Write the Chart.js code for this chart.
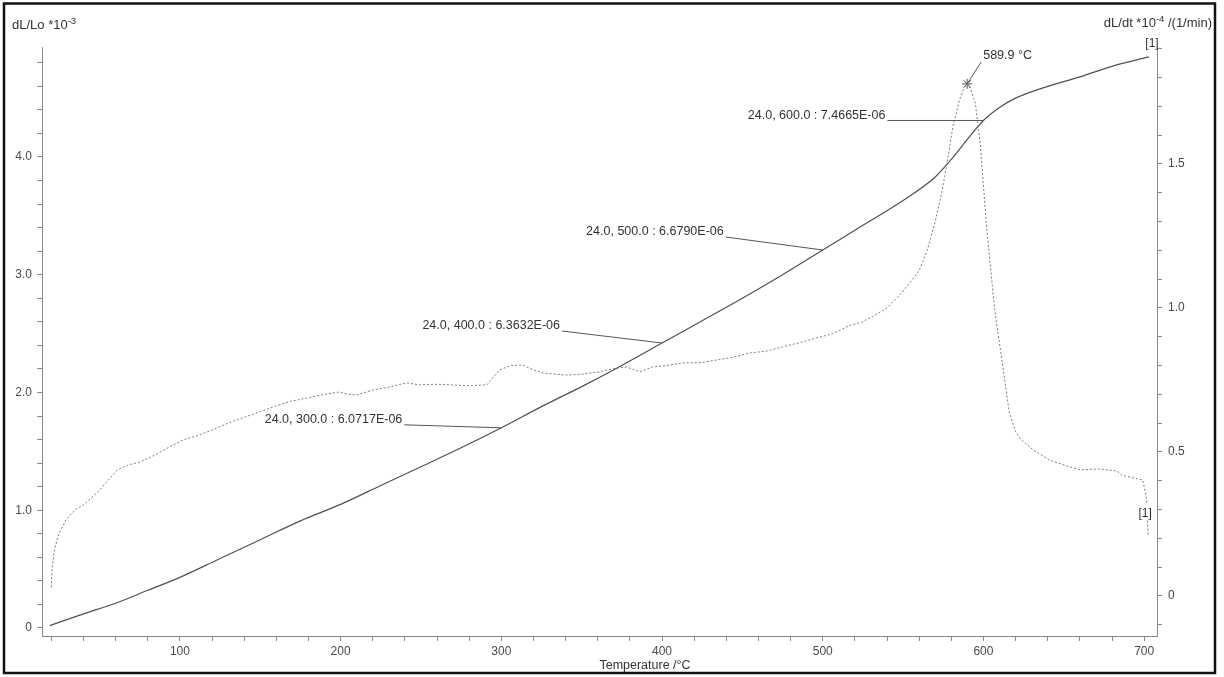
<!DOCTYPE html>
<html>
<head>
<meta charset="utf-8">
<title>Dilatometer: dL/Lo and dL/dt vs temperature</title>
<script src="https://cdn.jsdelivr.net/npm/chart.js@4.4.1/dist/chart.umd.min.js"></script>
<style>
  html, body { margin: 0; padding: 0; background: #fff; }
  #wrap { position: relative; width: 1224px; height: 677px; }
</style>
</head>
<body>
<div id="wrap"><canvas id="c" width="1224" height="677"></canvas></div>
<script>
// Relative expansion dL/Lo (*10^-3) against temperature (°C)
const expTemp  = [19, 40, 60, 80, 100, 125, 150, 175, 200, 225, 250, 275, 300, 325, 350, 375, 400, 425, 450, 475, 500, 525, 550, 570, 580, 590, 600, 610, 620, 640, 660, 680, 703];
const expValue = [0.02, 0.12, 0.21, 0.32, 0.43, 0.59, 0.75, 0.91, 1.05, 1.21, 1.37, 1.53, 1.70, 1.88, 2.05, 2.23, 2.42, 2.61, 2.80, 3.00, 3.21, 3.42, 3.63, 3.83, 3.98, 4.15, 4.31, 4.42, 4.50, 4.60, 4.68, 4.77, 4.85];

// Expansion rate dL/dt (*10^-4 1/min) against temperature (°C)
const rateTemp  = [20, 20.5, 22, 24, 29, 35, 40, 49, 55, 61, 68, 75, 85, 92, 102, 110, 120, 130, 139, 150, 158, 168, 179, 190, 199, 205, 210, 220, 230, 241, 249, 260, 268, 280, 291, 299, 306, 313, 320, 326, 334, 341, 350, 361, 370, 378, 386, 394, 403, 413, 424, 434, 445, 455, 465, 475, 486, 496, 506, 517, 524, 531, 540, 548, 556, 560, 565, 570, 574, 577, 581, 585, 588, 589.9, 592, 595, 598, 602, 607, 613, 616, 620, 623, 631, 641, 652, 660, 672, 683, 686, 693, 699, 700.5, 701.5, 702, 702.5];
const rateValue = [0.03, 0.10, 0.16, 0.205, 0.264, 0.30, 0.316, 0.361, 0.40, 0.437, 0.455, 0.465, 0.49, 0.513, 0.542, 0.555, 0.576, 0.60, 0.618, 0.64, 0.656, 0.675, 0.687, 0.70, 0.708, 0.70, 0.698, 0.715, 0.725, 0.74, 0.733, 0.735, 0.733, 0.73, 0.733, 0.785, 0.80, 0.802, 0.785, 0.774, 0.77, 0.767, 0.77, 0.778, 0.79, 0.795, 0.778, 0.795, 0.80, 0.809, 0.81, 0.819, 0.83, 0.844, 0.85, 0.865, 0.88, 0.896, 0.91, 0.94, 0.95, 0.97, 1.0, 1.045, 1.10, 1.13, 1.20, 1.30, 1.40, 1.49, 1.63, 1.72, 1.765, 1.778, 1.76, 1.71, 1.57, 1.28, 0.993, 0.76, 0.64, 0.57, 0.545, 0.507, 0.472, 0.451, 0.438, 0.441, 0.434, 0.42, 0.41, 0.403, 0.368, 0.333, 0.264, 0.212];

// Peak of the rate curve
const peakTemp = [589.9];
const peakRate = [1.778];
const peakText = '589.9 °C';

// Mean expansion coefficients, 24.0 °C up to the given temperature
const cteTemp = [300, 400, 500, 600];
const cteText = ['24.0, 300.0 : 6.0717E-06', '24.0, 400.0 : 6.3632E-06', '24.0, 500.0 : 6.6790E-06', '24.0, 600.0 : 7.4665E-06'];

// Axis labelling
const tempTickLabels = ['100', '200', '300', '400', '500', '600', '700'];
const expTickLabels  = ['0', '1.0', '2.0', '3.0', '4.0'];
const rateTickLabels = ['0', '0.5', '1.0', '1.5'];
const tempTitle = 'Temperature /°C';
const curveTag = '[1]';

// ---------------------------------------------------------------------------
const FONT = '"Liberation Sans", Arial, Helvetica, sans-serif';
Chart.defaults.font.family = FONT;
Chart.defaults.font.size = 12;
Chart.defaults.color = '#4a4a4a';

// leader offsets (px) from the curve point back to the text end
const leaderOffsets = [[-97, -3], [-100, -12], [-97, -13], [-96, 0]];

function labelFor(list, value) {
  const hit = list.find(s => Math.abs(parseFloat(s) - value) < 1e-6);
  return hit === undefined ? '' : hit;
}
function interp(xs, ys, x) {
  for (let i = 1; i < xs.length; i++) {
    if (x <= xs[i]) {
      const f = (x - xs[i - 1]) / (xs[i] - xs[i - 1]);
      return ys[i - 1] + f * (ys[i] - ys[i - 1]);
    }
  }
  return ys[ys.length - 1];
}
function fixBox(size, horizontal) {
  return function (scale) {
    if (horizontal) scale.height = size; else scale.width = size;
    scale.paddingTop = scale.paddingBottom = scale.paddingLeft = scale.paddingRight = 0;
  };
}
function stepTicks(from, to, step, digits) {
  const out = [];
  const n = Math.round((to - from) / step);
  for (let i = 0; i <= n; i++) out.push({ value: +(from + i * step).toFixed(digits) });
  return out;
}

const axisGrid = { drawOnChartArea: false, drawTicks: true, tickLength: 5, color: '#8a8a8a', lineWidth: 1 };
const axisBorder = { display: true, color: '#8a8a8a', width: 1 };

const overlay = {
  id: 'overlay',
  afterDatasetsDraw(chart) {
    const { ctx, scales } = chart;
    const x = scales.x, y = scales.y, y2 = scales.y2;
    ctx.save();

    // expansion-coefficient callouts
    ctx.font = '12.5px ' + FONT;
    ctx.fillStyle = '#333';
    ctx.strokeStyle = '#555';
    ctx.lineWidth = 1;
    ctx.textAlign = 'right';
    ctx.textBaseline = 'middle';
    cteTemp.forEach((t, i) => {
      const px = x.getPixelForValue(t);
      const py = y.getPixelForValue(interp(expTemp, expValue, t));
      const sx = px + leaderOffsets[i][0];
      const sy = py + leaderOffsets[i][1];
      ctx.beginPath();
      ctx.moveTo(sx, sy);
      ctx.lineTo(px, py);
      ctx.stroke();
      ctx.fillText(cteText[i], sx - 2, sy - 5);
    });

    // peak callout
    const kx = x.getPixelForValue(peakTemp[0]);
    const ky = y2.getPixelForValue(peakRate[0]);
    ctx.beginPath();
    ctx.moveTo(kx, ky);
    ctx.lineTo(kx + 14, ky - 22);
    ctx.stroke();
    ctx.textAlign = 'left';
    ctx.fillText(peakText, kx + 16, ky - 28);

    // curve end tags
    ctx.font = '12px ' + FONT;
    ctx.textAlign = 'center';
    const ex = x.getPixelForValue(expTemp[expTemp.length - 1]);
    const ey = y.getPixelForValue(expValue[expValue.length - 1]);
    ctx.fillText(curveTag, ex + 3, ey - 13);

    const rx = x.getPixelForValue(rateTemp[rateTemp.length - 1]);
    const ry = y2.getPixelForValue(rateValue[rateValue.length - 1]);
    ctx.fillStyle = '#fff';
    ctx.fillRect(rx - 12, ry - 30, 15, 15);
    ctx.fillStyle = '#333';
    ctx.fillText(curveTag, rx - 3, ry - 21);
    ctx.restore();
  },
  afterDraw(chart) {
    const { ctx } = chart;
    ctx.save();
    ctx.fillStyle = '#333';
    ctx.textBaseline = 'alphabetic';

    // axis titles with superscript exponents
    const fontFor = p => (p.sup ? '9.5px ' : '13px ') + FONT;
    const drawTitle = (parts, x0, base) => {
      let cx = x0;
      parts.forEach(p => {
        ctx.font = fontFor(p);
        ctx.fillText(p.t, cx, base - (p.sup ? 5 : 0));
        cx += ctx.measureText(p.t).width;
      });
    };
    const measure = parts => parts.reduce((w, p) => {
      ctx.font = fontFor(p);
      return w + ctx.measureText(p.t).width;
    }, 0);
    ctx.textAlign = 'left';
    drawTitle([{ t: 'dL/Lo *10' }, { t: '-3', sup: true }], 12, 29);
    const rightParts = [{ t: 'dL/dt *10' }, { t: '-4', sup: true }, { t: ' /(1/min)' }];
    drawTitle(rightParts, 1212 - measure(rightParts), 27);

    // x axis title
    ctx.font = '12.5px ' + FONT;
    ctx.textAlign = 'center';
    ctx.fillText(tempTitle, 645, 669);

    // outer frame
    ctx.strokeStyle = '#111';
    ctx.lineWidth = 2.5;
    ctx.strokeRect(4, 3.5, 1211, 669.5);
    ctx.restore();
  }
};

new Chart(document.getElementById('c'), {
  type: 'line',
  data: {
    datasets: [
      {
        label: 'dL/dt',
        data: rateTemp.map((t, i) => ({ x: t, y: rateValue[i] })),
        yAxisID: 'y2',
        borderColor: '#7a7a7a',
        borderWidth: 1,
        borderDash: [2, 2],
        pointRadius: 0,
        tension: 0,
        fill: false
      },
      {
        label: 'dL/Lo',
        data: expTemp.map((t, i) => ({ x: t, y: expValue[i] })),
        yAxisID: 'y',
        borderColor: '#505050',
        borderWidth: 1.2,
        pointRadius: 0,
        cubicInterpolationMode: 'monotone',
        fill: false
      },
      {
        label: 'peak',
        data: peakTemp.map((t, i) => ({ x: t, y: peakRate[i] })),
        yAxisID: 'y2',
        showLine: false,
        pointStyle: 'star',
        pointRadius: 5,
        pointBorderColor: '#555',
        pointBorderWidth: 1,
        pointBackgroundColor: '#555'
      }
    ]
  },
  options: {
    responsive: false,
    animation: false,
    devicePixelRatio: 1,
    layout: { padding: { top: 47, left: 0, right: 0, bottom: 0 } },
    plugins: { legend: { display: false }, tooltip: { enabled: false } },
    scales: {
      x: {
        type: 'linear',
        position: 'bottom',
        min: 14.2,
        max: 708,
        grid: axisGrid,
        border: axisBorder,
        afterBuildTicks: s => { s.ticks = stepTicks(20, 700, 20, 0); },
        afterFit: fixBox(41, true),
        ticks: {
          autoSkip: false,
          maxRotation: 0,
          padding: 3,
          color: '#4a4a4a',
          callback: v => labelFor(tempTickLabels, v)
        }
      },
      y: {
        type: 'linear',
        position: 'left',
        min: -0.068,
        max: 4.934,
        grid: axisGrid,
        border: axisBorder,
        afterBuildTicks: s => { s.ticks = stepTicks(0, 4.8, 0.2, 1); },
        afterFit: fixBox(42, false),
        ticks: {
          autoSkip: false,
          padding: 5,
          color: '#4a4a4a',
          callback: v => labelFor(expTickLabels, v)
        }
      },
      y2: {
        type: 'linear',
        position: 'right',
        min: -0.139,
        max: 1.906,
        grid: axisGrid,
        border: axisBorder,
        afterBuildTicks: s => { s.ticks = stepTicks(-0.1, 1.9, 0.1, 1); },
        afterFit: fixBox(67, false),
        ticks: {
          autoSkip: false,
          padding: 6,
          color: '#4a4a4a',
          callback: v => labelFor(rateTickLabels, v)
        }
      }
    }
  },
  plugins: [overlay]
});
</script>
</body>
</html>
